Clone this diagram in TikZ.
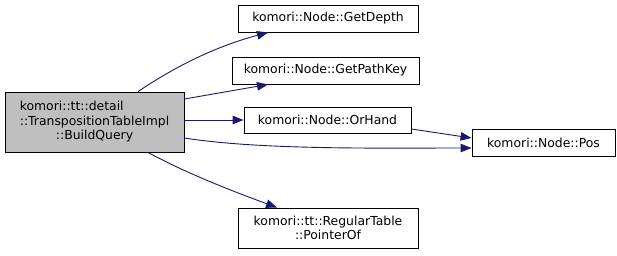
\documentclass[tikz,border=0pt]{standalone}
\usepackage{fontspec}
\setmainfont{DejaVu Sans}
\usetikzlibrary{arrows.meta}
\definecolor{edgeblue}{HTML}{191970}
\definecolor{focusgray}{HTML}{BFBFBF}
\begin{document}
\begin{tikzpicture}[x=1pt,y=-1pt,
  fnbox/.style={draw=black, line width=0.9pt, fill=white, inner sep=0pt, align=center,
    font=\fontsize{12.4}{14.5}\selectfont, minimum height=27pt},
  callarrow/.style={draw=edgeblue, line width=0.9pt,
    -{Triangle[length=11pt,width=8.5pt]}, fill=none},
]
\useasboundingbox (0,0) rectangle (617,255);

% caller (highlighted)
\node[fnbox, fill=focusgray, minimum width=179pt, minimum height=60pt] (bq) at (94.5,122)
  {\rlap{komori::tt::detail}\phantom{::TranspositionTableImpl}\\::TranspositionTableImpl\\::BuildQuery};

% callees
\node[fnbox, minimum width=180pt] (depth) at (328,18.5) {komori::Node::GetDepth};
\node[fnbox, minimum width=187pt] (pkey) at (325.5,70.5) {komori::Node::GetPathKey};
\node[fnbox, minimum width=167pt, minimum height=26pt] (orh) at (327.5,120) {komori::Node::OrHand};
\node[fnbox, minimum width=143pt, minimum height=27pt] (pos) at (543.5,143) {komori::Node::Pos};
\node[fnbox, minimum width=180pt, minimum height=40pt] (ptr) at (328,228)
  {komori::tt::RegularTable\\::PointerOf};

% call edges
\draw[callarrow] (bq.north -| 138,0) .. controls (185,60) and (225,44) .. (depth.south -| 268,0);
\draw[callarrow] (bq.east |- 0,99) -- (pkey.south -| 268,0);
\draw[callarrow] (bq.east |- 0,120) -- (orh.west);
\draw[callarrow] (bq.east |- 0,138) .. controls (260,150) and (380,148) .. (pos.west |- 0,148);
\draw[callarrow] (orh.east |- 0,129) -- (pos.west |- 0,138);
\draw[callarrow] (bq.south -| 148,0) .. controls (190,175) and (235,192) .. (ptr.north -| 277,0);
\end{tikzpicture}
\end{document}
